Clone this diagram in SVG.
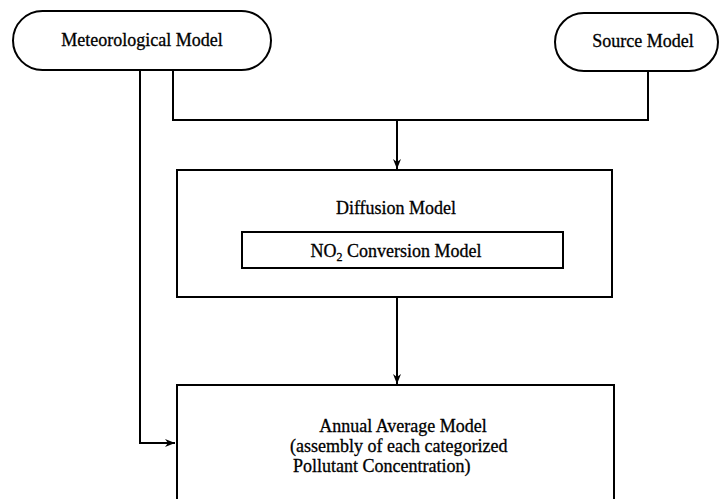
<svg xmlns="http://www.w3.org/2000/svg" width="721" height="499" viewBox="0 0 721 499">
<defs>
<marker id="arr" viewBox="0 0 10 10" refX="10" refY="5" markerWidth="5" markerHeight="5" orient="auto" markerUnits="strokeWidth">
<path d="M0,1 L10,5 L0,9 L3,5 Z" fill="#000"/>
</marker>
</defs>
<style>
.box{fill:#fff;stroke:#000;stroke-width:2}
.ln{fill:none;stroke:#000;stroke-width:2}
text{font-family:"Liberation Serif","Times New Roman",serif;font-size:18px;fill:#000;stroke:#000;stroke-width:0.3;text-anchor:middle}
.l{text-anchor:start}
</style>
<rect width="721" height="499" fill="#fff"/>
<g id="connectors">
<polyline class="ln" points="140,70 140,443 175,443" marker-end="url(#arr)"/>
<polyline class="ln" points="173,70 173,120 648,120 648,71"/>
<line class="ln" x1="397" y1="120" x2="397" y2="169" marker-end="url(#arr)"/>
<line class="ln" x1="397" y1="297" x2="397" y2="384" marker-end="url(#arr)"/>
</g>
<g id="meteorological">
<rect class="box" x="13" y="11" width="258" height="59" rx="29.5"/>
<text x="142" y="46" font-size="19">Meteorological Model</text>
</g>
<g id="source">
<rect class="box" x="555" y="13" width="163" height="58" rx="29"/>
<text x="643" y="47" font-size="17">Source Model</text>
</g>
<g id="diffusion">
<rect class="box" x="177" y="170" width="435" height="127"/>
<text x="396" y="214">Diffusion Model</text>
<g id="no2">
<rect class="box" x="242" y="232" width="321" height="36"/>
<text x="396" y="257">NO<tspan font-size="12" dy="4">2</tspan><tspan dy="-4"> Conversion Model</tspan></text>
</g>
</g>
<g id="annual">
<rect class="box" x="177" y="385" width="437" height="130"/>
<text x="403" y="432">Annual Average Model</text>
<text class="l" x="290" y="452">(assembly of each categorized</text>
<text class="l" x="293" y="472">Pollutant Concentration)</text>
</g>
</svg>
